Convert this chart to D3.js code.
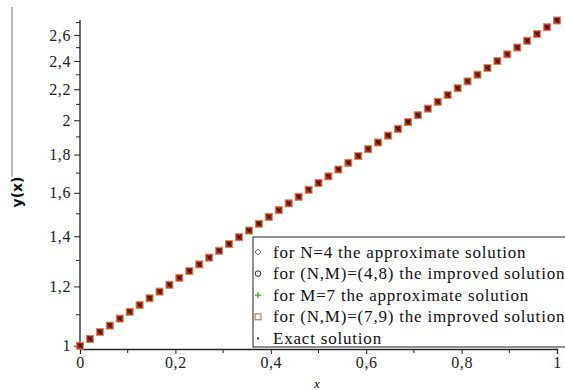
<!DOCTYPE html>
<html>
<head>
<meta charset="utf-8">
<script src="https://cdn.jsdelivr.net/npm/d3@7"></script>
<style>
  body { margin: 0; background: #fff; }
  svg { display: block; }
</style>
</head>
<body>
<div id="chart"></div>
<script>
// points (all five series sit on top of each other)
const xValues = [0, 0.0208, 0.0417, 0.0625, 0.0833, 0.1042, 0.125, 0.1458, 0.1667, 0.1875,
  0.2083, 0.2292, 0.25, 0.2708, 0.2917, 0.3125, 0.3333, 0.3542, 0.375, 0.3958,
  0.4167, 0.4375, 0.4583, 0.4792, 0.5, 0.5208, 0.5417, 0.5625, 0.5833, 0.6042,
  0.625, 0.6458, 0.6667, 0.6875, 0.7083, 0.7292, 0.75, 0.7708, 0.7917, 0.8125,
  0.8333, 0.8542, 0.875, 0.8958, 0.9167, 0.9375, 0.9583, 0.9792, 1];
const yValues = [1.000, 1.021, 1.043, 1.064, 1.087, 1.110, 1.133, 1.157, 1.181, 1.206,
  1.232, 1.258, 1.284, 1.311, 1.339, 1.367, 1.396, 1.425, 1.455, 1.486,
  1.517, 1.549, 1.581, 1.615, 1.649, 1.683, 1.719, 1.755, 1.792, 1.830,
  1.868, 1.908, 1.948, 1.989, 2.031, 2.073, 2.117, 2.162, 2.207, 2.254,
  2.301, 2.349, 2.399, 2.449, 2.501, 2.554, 2.607, 2.662, 2.718];
const seriesLabels = [
  "for N=4 the approximate solution",
  "for (N,M)=(4,8) the improved solution",
  "for M=7 the approximate solution",
  "for (N,M)=(7,9) the improved solution",
  "Exact solution"
];
const xTicks = [0, 0.2, 0.4, 0.6, 0.8, 1];
const xMinor = [0.1, 0.3, 0.5, 0.7, 0.9];
const yTicks = [1, 1.2, 1.4, 1.6, 1.8, 2, 2.2, 2.4, 2.6];
const yMinor = [1.1, 1.3, 1.5, 1.7, 1.9, 2.1, 2.3, 2.5, 2.7];

const width = 565, height = 390;
const svg = d3.select("#chart").append("svg")
    .attr("width", width)
    .attr("height", height);

const x = d3.scaleLinear().domain([0, 1]).range([80, 557]);
const y = d3.scaleLog().domain([0.99, 2.722]).range([349, 20]);
const comma = d => String(d).replace(".", ",");

// x axis
const xAxis = svg.append("g")
    .attr("transform", `translate(0,${y(0.99)})`)
    .call(d3.axisBottom(x).tickValues(xTicks).tickFormat(comma).tickSize(5).tickPadding(3));
xAxis.append("g").selectAll("line")
    .data(xMinor)
    .enter().append("line")
    .attr("x1", d => x(d)).attr("x2", d => x(d))
    .attr("y1", 0).attr("y2", 4)
    .attr("stroke", "#222");

// y axis
const yAxis = svg.append("g")
    .attr("transform", `translate(${x(0)},0)`)
    .call(d3.axisLeft(y).tickValues(yTicks).tickFormat(comma).tickSize(6).tickPadding(3));
yAxis.append("g").selectAll("line")
    .data(yMinor)
    .enter().append("line")
    .attr("y1", d => y(d)).attr("y2", d => y(d))
    .attr("x1", 0).attr("x2", -4)
    .attr("stroke", "#222");

[xAxis, yAxis].forEach(a => {
  a.select(".domain").attr("stroke", "#222").attr("stroke-width", 1.3);
  a.selectAll(".tick line").attr("stroke", "#222");
  a.selectAll("text")
      .attr("font-family", "'Liberation Serif', 'DejaVu Serif', serif")
      .attr("font-size", 16)
      .attr("letter-spacing", 0.6)
      .attr("fill", "#222");
});
yAxis.select(".domain").attr("d", `M0,${y(0.99)}V${y(2.722)}`);

// axis titles
svg.append("line")
    .attr("x1", 12).attr("x2", 12)
    .attr("y1", 7).attr("y2", 177)
    .attr("stroke", "#777");
svg.append("text")
    .attr("transform", "translate(22,192) rotate(-90)")
    .attr("text-anchor", "middle")
    .attr("font-family", "'DejaVu Sans', sans-serif")
    .attr("font-weight", "bold")
    .attr("font-size", 14)
    .attr("fill", "#111")
    .text("y(x)");
svg.append("text")
    .attr("x", 317).attr("y", 388)
    .attr("text-anchor", "middle")
    .attr("font-family", "'Liberation Serif', serif")
    .attr("font-style", "italic")
    .attr("font-size", 13)
    .text("x");

// points: overlapping markers of the five series
const pts = xValues.map((d, i) => ({ x: d, y: yValues[i] }));
const marks = svg.append("g");
marks.selectAll("rect")
    .data(pts)
    .enter().append("rect")
    .attr("x", d => x(d.x) - 3.5)
    .attr("y", d => y(d.y) - 3.5)
    .attr("width", 7).attr("height", 7)
    .attr("fill", "#b82a1c")
    .attr("stroke", "#d98a5c")
    .attr("stroke-width", 1);
marks.selectAll("path.cross")
    .data(pts)
    .enter().append("path")
    .attr("class", "cross")
    .attr("d", d => {
      const cx = x(d.x), cy = y(d.y);
      return `M${cx - 2},${cy - 2}L${cx + 2},${cy + 2}M${cx + 2},${cy - 2}L${cx - 1},${cy + 1}`;
    })
    .attr("stroke", "#2a1a10")
    .attr("stroke-width", 1.3);

// legend
const lg = svg.append("g");
lg.append("rect")
    .attr("x", 253).attr("y", 237)
    .attr("width", 340).attr("height", 110)
    .attr("fill", "#fff")
    .attr("stroke", "#222");
const rowY = i => 252 + i * 21.6;
const symX = 258;
const sym = lg.append("g");
sym.append("path")
    .attr("d", `M${symX},${rowY(0) - 3}L${symX + 3},${rowY(0)}L${symX},${rowY(0) + 3}L${symX - 3},${rowY(0)}Z`)
    .attr("fill", "none").attr("stroke", "#5a5aa8");
sym.append("circle")
    .attr("cx", symX).attr("cy", rowY(1)).attr("r", 2.8)
    .attr("fill", "none").attr("stroke", "#222");
sym.append("path")
    .attr("d", `M${symX - 3},${rowY(2)}H${symX + 3}M${symX},${rowY(2) - 3}V${rowY(2) + 3}`)
    .attr("stroke", "#2eaa2e").attr("stroke-width", 1.3);
sym.append("rect")
    .attr("x", symX - 3).attr("y", rowY(3) - 3)
    .attr("width", 6).attr("height", 6)
    .attr("fill", "none").attr("stroke", "#a8643a");
sym.append("rect")
    .attr("x", symX - 1).attr("y", rowY(4) - 1)
    .attr("width", 2).attr("height", 2)
    .attr("fill", "#7a1010");
lg.selectAll("text")
    .data(seriesLabels)
    .enter().append("text")
    .attr("x", 273)
    .attr("y", (d, i) => rowY(i) + 5.5)
    .attr("font-family", "'Liberation Serif', serif")
    .attr("font-size", 17)
    .attr("letter-spacing", 0.8)
    .attr("fill", "#111")
    .text(d => d);
</script>
</body>
</html>
